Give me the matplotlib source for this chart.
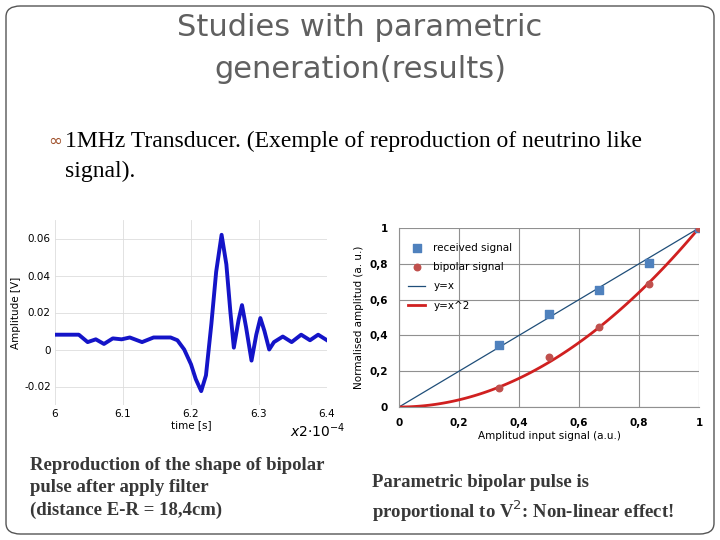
import numpy as np
import matplotlib
matplotlib.use("Agg")
import matplotlib.pyplot as plt
from matplotlib.patches import FancyBboxPatch

# --- left chart: reproduced bipolar pulse (time in units of 2e-4 s) ---
pulse_t = [6.000, 6.035, 6.048, 6.060, 6.072, 6.085, 6.098, 6.110, 6.128, 6.145,
           6.170, 6.180, 6.190, 6.200, 6.207, 6.215, 6.222, 6.230, 6.237, 6.245,
           6.252, 6.258, 6.263, 6.270, 6.275, 6.281, 6.289, 6.296, 6.302, 6.308,
           6.315, 6.322, 6.335, 6.348, 6.362, 6.375, 6.387, 6.400]
pulse_v = [0.008, 0.008, 0.004, 0.0055, 0.003, 0.006, 0.0055, 0.0065, 0.004, 0.0065,
           0.0065, 0.005, 0.000, -0.008, -0.016, -0.0225, -0.014, 0.014, 0.042, 0.062,
           0.046, 0.020, 0.001, 0.016, 0.024, 0.012, -0.006, 0.008, 0.017, 0.010,
           0.000, 0.004, 0.007, 0.004, 0.008, 0.005, 0.008, 0.005]

# --- right chart: normalised amplitudes ---
input_amp = [1/3, 0.5, 2/3, 5/6, 1.0]
received = [0.345, 0.52, 0.655, 0.805, 1.0]
bipolar = [0.105, 0.28, 0.445, 0.685, 1.0]

fig = plt.figure(figsize=(7.2, 5.4), dpi=100)
fig.patch.set_facecolor("white")
fig.patches.append(FancyBboxPatch((6/720, 6/540), 708/720, 528/540,
                                  boxstyle="round,pad=0,rounding_size=0.02",
                                  transform=fig.transFigure, fill=False,
                                  edgecolor="#555555", lw=1))

fig.text(0.5, 1 - 28/540, "Studies with parametric", ha="center", va="center",
         fontsize=22, color="#606060")
fig.text(0.5, 1 - 70/540, "generation(results)", ha="center", va="center",
         fontsize=22, color="#606060")
fig.text(48/720, 1 - 141/540, "\u221e", ha="left", va="center", fontsize=12,
         color="#a0522d")
fig.text(65/720, 1 - 141/540, "1MHz Transducer. (Exemple of reproduction of neutrino like",
         ha="left", va="center", fontsize=17, family="Liberation Serif")
fig.text(65/720, 1 - 171/540, "signal).", ha="left", va="center", fontsize=17,
         family="Liberation Serif")

# left axes
ax1 = fig.add_axes([55/720, 1 - 405/540, 272/720, 185/540])
ax1.plot(pulse_t, pulse_v, color="#1414c8", lw=2.8)
ax1.set_xlim(6, 6.4)
ax1.set_ylim(-0.03, 0.07)
ax1.set_xticks([6, 6.1, 6.2, 6.3, 6.4])
ax1.set_xticklabels(["6", "6.1", "6.2", "6.3", "6.4"])
ax1.set_yticks([-0.02, 0, 0.02, 0.04, 0.06])
ax1.set_yticklabels(["-0.02", "0", "0.02", "0.04", "0.06"])
ax1.grid(True, color="#dddddd", lw=0.6)
for s in ax1.spines.values():
    s.set_visible(False)
ax1.tick_params(length=0, labelsize=7.5, pad=3)
ax1.set_xlabel("time [s]", fontsize=7.5, labelpad=1)
ax1.set_ylabel("Amplitude [V]", fontsize=7.5, labelpad=2)
fig.text(290/720, 1 - 437/540, r"$x2{\cdot}10^{-4}$", fontsize=10, family="serif")

# right axes
ax2 = fig.add_axes([399/720, 1 - 407/540, 300/720, 179/540])
xs = np.linspace(0, 1, 101)
ax2.plot(xs, xs, color="#1f4e79", lw=0.9, label="y=x", zorder=2)
ax2.plot(xs, xs ** 2, color="#d02020", lw=2, label="y=x^2", zorder=2)
ax2.scatter(input_amp, received, marker="s", s=32, color="#4f81bd",
            label="received signal", zorder=3)
ax2.scatter(input_amp, bipolar, marker="o", s=22, color="#c0504d",
            label="bipolar signal", zorder=3)
ax2.set_xlim(0, 1)
ax2.set_ylim(0, 1)
ticks = [0, 0.2, 0.4, 0.6, 0.8, 1]
labels = ["0", "0,2", "0,4", "0,6", "0,8", "1"]
ax2.set_xticks(ticks)
ax2.set_xticklabels(labels)
ax2.set_yticks(ticks)
ax2.set_yticklabels(labels)
ax2.grid(True, color="#909090", lw=0.8)
for name, s in ax2.spines.items():
    s.set_visible(name in ("left", "bottom"))
    s.set_color("#909090")
ax2.tick_params(length=0, labelsize=7.5, pad=8)
for lbl in ax2.get_xticklabels() + ax2.get_yticklabels():
    lbl.set_fontweight("bold")
ax2.set_xlabel("Amplitud input signal (a.u.)", fontsize=7.5, labelpad=2)
ax2.set_ylabel("Normalised amplitud (a. u.)", fontsize=7.5, labelpad=4)
h, l = ax2.get_legend_handles_labels()
order = [2, 3, 0, 1]
ax2.legend([h[i] for i in order], [l[i] for i in order], loc="upper left",
           bbox_to_anchor=(0.0, 0.97), frameon=False, fontsize=7.5,
           handlelength=1.6, labelspacing=0.9)

fig.text(30/720, 1 - 457/540, "Reproduction of the shape of bipolar\npulse after apply filter\n(distance E-R = 18,4cm)",
         ha="left", va="top", fontsize=13.5, family="Liberation Serif", weight="bold",
         color="#383838", linespacing=1.4)
fig.text(372/720, 1 - 474/540, "Parametric bipolar pulse is\nproportional to V$^2$: Non-linear effect!",
         ha="left", va="top", fontsize=13.5, family="Liberation Serif", weight="bold",
         color="#383838", linespacing=1.4)

fig.savefig("out.png", dpi=100)
